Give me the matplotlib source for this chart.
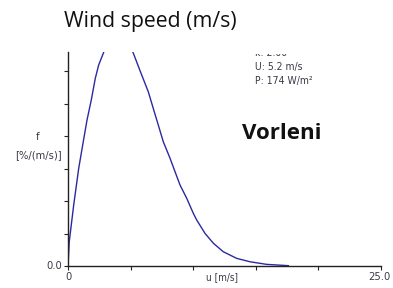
import matplotlib
matplotlib.use("Agg")
import matplotlib.pyplot as plt
from matplotlib.patches import Rectangle

# wind speed distribution (u in m/s, f in %/(m/s))
speed = [0.0, 0.1, 0.455, 0.855, 1.174, 1.518, 1.861, 2.18, 2.45, 2.85,
         3.4, 4.0, 4.6, 5.22, 5.89, 6.41, 6.81, 7.21, 7.61, 8.15, 8.55, 8.95,
         9.48, 10.01, 10.28, 10.94, 11.61, 12.4, 13.47, 14.54, 15.87, 17.6]
freq = [0.0, 1.5, 3.75, 6.01, 7.45, 8.98, 10.22, 11.55, 12.37, 13.15,
        14.3, 14.7, 14.4, 13.09, 11.75, 10.73, 9.7, 8.68, 7.65, 6.63, 5.8, 4.98,
        4.17, 3.24, 2.83, 2.01, 1.4, 0.88, 0.47, 0.26, 0.1, 0.02]

stats = ["k: 2.00", "U: 5.2 m/s", "P: 174 W/m\u00b2"]
xticks = [0, 5, 10, 15, 20, 25]
yticks = [0, 2, 4, 6, 8, 10, 12]

fig = plt.figure(figsize=(3.93, 2.88), dpi=100)
ax = fig.add_axes([68 / 393, 22 / 288, 313 / 393, 214 / 288])

ax.plot(speed, freq, color="#2a2aa0", lw=1.0)
ax.set_xlim(0, 25)
ax.set_ylim(0, 13.17)

for s in ["top", "right"]:
    ax.spines[s].set_visible(False)
for s in ["left", "bottom"]:
    ax.spines[s].set_color("#222222")
    ax.spines[s].set_linewidth(1.0)

ax.set_xticks(xticks)
ax.set_yticks(yticks)
ax.set_xticklabels([""] * len(xticks))
ax.set_yticklabels([""] * len(yticks))
ax.tick_params(direction="out", length=3, width=0.8, color="#222222")

lab = dict(family="DejaVu Sans", stretch="condensed", fontsize=8, color="#3a3a48")
ax.text(0.05, -0.35, "0", ha="center", va="top", **lab)
ax.text(24.85, -0.35, "25.0", ha="center", va="top", **lab)
ax.text(-0.5, 0, "0.0", ha="right", va="center", **lab)
fig.text(38 / 393, 1 - 137 / 288, "f", ha="center", va="center", **lab)
fig.text(38 / 393, 1 - 155 / 288, "[%/(m/s)]", ha="center", va="center", **lab)
ax.text(12.3, -0.35, "u [m/s]", ha="center", va="top", family="DejaVu Sans",
        stretch="condensed", fontsize=7.2, color="#3a3a48")

# stats box; the top line is cut off in the original screenshot
bases = [12.92, 12.06, 11.2]
for s, b in zip(stats, bases):
    ax.text(14.94, b, s, ha="left", va="baseline", family="DejaVu Sans",
            stretch="condensed", fontsize=7.5, color="#3a3a48")
fig.add_artist(Rectangle((240 / 393, 1 - 53.5 / 288), 100 / 393, 15 / 288,
                         transform=fig.transFigure, facecolor="white",
                         edgecolor="none", zorder=5))

fig.text(150 / 393, 1 - 22 / 288, "Wind speed (m/s)", ha="center", va="center",
         family="Open Sans", fontsize=15.3, color="#111111")
ax.text(17.1, 8.18, "Vorleni", ha="center", va="center", family="Open Sans",
        fontweight="bold", fontsize=16, color="#111111")

fig.savefig("out.png", dpi=100)
